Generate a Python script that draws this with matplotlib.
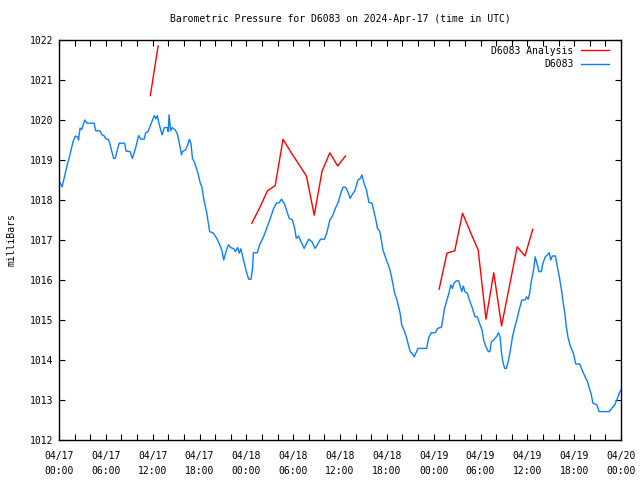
import matplotlib
matplotlib.use('Agg')
import matplotlib.pyplot as plt
import numpy as np

# hours since 2024-04-17 00:00 UTC, pressure in mbar
obs_hours = [0.1, 0.4, 0.7, 1.0, 1.4, 1.8, 2.1, 2.4, 2.5, 2.7, 2.9, 3.3, 3.6, 4.5, 4.7, 5.25, 5.5, 5.8, 6.0, 6.3,
             6.5, 7.0, 7.2, 7.7, 8.4, 8.6, 9.1, 9.4, 9.8, 10.2, 10.5, 10.9, 11.1, 11.4, 11.9, 12.2, 12.4, 12.6, 12.8, 13.2,
             13.5, 13.9, 14.0, 14.1, 14.3, 14.5, 14.9, 15.2, 15.5, 15.7, 15.8, 16.2, 16.5, 16.7, 16.9, 17.1, 17.4, 17.8, 18.1, 18.3,
             18.5, 18.7, 18.9, 19.1, 19.3, 19.8, 20.2, 20.6, 20.9, 21.1, 21.4, 21.7, 22.0, 22.4, 22.6, 22.9, 23.1, 23.3, 23.6, 24.0,
             24.3, 24.6, 24.8, 24.9, 25.4, 25.7, 26.2, 26.6, 27.0, 27.5, 27.9, 28.2, 28.5, 28.9, 29.2, 29.5, 29.9, 30.2, 30.4, 30.7,
             31.0, 31.4, 32.0, 32.4, 32.8, 33.1, 33.5, 34.0, 34.3, 34.7, 35.1, 35.4, 35.8, 36.1, 36.4, 36.7, 37.0, 37.3, 37.6, 37.9,
             38.3, 38.6, 38.8, 39.1, 39.4, 39.7, 40.1, 40.3, 40.6, 40.8, 41.1, 41.3, 41.5, 41.8, 42.1, 42.4, 42.6, 42.8, 43.0, 43.3,
             43.7, 43.9, 44.2, 44.5, 44.7, 45.0, 45.3, 45.5, 46.0, 46.5, 47.1, 47.4, 47.7, 48.2, 48.5, 49.0, 49.2, 49.4, 49.7, 49.9,
             50.2, 50.4, 50.6, 50.9, 51.2, 51.4, 51.6, 51.8, 52.0, 52.3, 52.65, 52.9, 53.3, 53.6, 53.8, 54.2, 54.4, 54.7, 55.0, 55.2,
             55.4, 55.7, 56.1, 56.3, 56.5, 56.7, 56.9, 57.1, 57.3, 57.5, 57.8, 58.1, 58.4, 58.7, 59.0, 59.3, 59.7, 59.9, 60.1, 60.3,
             60.5, 60.8, 61.0, 61.2, 61.5, 61.8, 62.0, 62.3, 62.6, 62.8, 63.0, 63.2, 63.6, 63.8, 64.1, 64.4, 64.6, 64.8, 65.0, 65.2,
             65.5, 65.9, 66.2, 66.7, 67.1, 67.4, 67.7, 67.9, 68.2, 68.4, 68.9, 69.2, 70.5, 70.8, 71.2, 71.5, 71.8, 72.0]
obs_mbar = [1018.44, 1018.33, 1018.58, 1018.83, 1019.13, 1019.46, 1019.6, 1019.57, 1019.5, 1019.8, 1019.76, 1020.0, 1019.92, 1019.92, 1019.73, 1019.73, 1019.63, 1019.6, 1019.53, 1019.52,
            1019.42, 1019.04, 1019.04, 1019.42, 1019.42, 1019.22, 1019.21, 1019.04, 1019.29, 1019.61, 1019.52, 1019.52, 1019.68, 1019.71, 1019.96, 1020.11, 1020.03, 1020.11, 1019.92, 1019.63,
            1019.81, 1019.81, 1019.71, 1020.13, 1019.73, 1019.81, 1019.75, 1019.63, 1019.33, 1019.13, 1019.21, 1019.25, 1019.38, 1019.52, 1019.42, 1019.04, 1018.92, 1018.67, 1018.42, 1018.33,
            1018.08, 1017.88, 1017.71, 1017.46, 1017.21, 1017.17, 1017.04, 1016.88, 1016.71, 1016.5, 1016.71, 1016.88, 1016.81, 1016.78, 1016.71, 1016.81, 1016.67, 1016.78, 1016.54, 1016.21,
            1016.02, 1016.02, 1016.3, 1016.68, 1016.68, 1016.88, 1017.08, 1017.29, 1017.5, 1017.79, 1017.93, 1017.93, 1018.02, 1017.9, 1017.71, 1017.54, 1017.5, 1017.29, 1017.04, 1017.1,
            1016.96, 1016.79, 1017.02, 1016.96, 1016.79, 1016.88, 1017.02, 1017.02, 1017.17, 1017.5, 1017.63, 1017.79, 1017.96, 1018.17, 1018.32, 1018.32, 1018.21, 1018.04, 1018.15, 1018.23,
            1018.5, 1018.54, 1018.63, 1018.4, 1018.25, 1017.94, 1017.92, 1017.75, 1017.5, 1017.29, 1017.21, 1017.0, 1016.75, 1016.58, 1016.42, 1016.25, 1016.08, 1015.88, 1015.67, 1015.5,
            1015.17, 1014.88, 1014.75, 1014.58, 1014.42, 1014.21, 1014.15, 1014.08, 1014.29, 1014.29, 1014.29, 1014.58, 1014.68, 1014.68, 1014.79, 1014.82, 1015.05, 1015.3, 1015.5, 1015.63,
            1015.88, 1015.79, 1015.92, 1015.98, 1015.98, 1015.85, 1015.71, 1015.85, 1015.71, 1015.67, 1015.46, 1015.33, 1015.08, 1015.08, 1014.96, 1014.75, 1014.5, 1014.33, 1014.21, 1014.21,
            1014.46, 1014.5, 1014.6, 1014.68, 1014.58, 1014.17, 1013.92, 1013.79, 1013.79, 1013.92, 1014.21, 1014.58, 1014.83, 1015.04, 1015.29, 1015.5, 1015.5, 1015.58, 1015.52, 1015.67,
            1015.96, 1016.25, 1016.58, 1016.44, 1016.21, 1016.21, 1016.42, 1016.58, 1016.63, 1016.68, 1016.5, 1016.6, 1016.6, 1016.38, 1016.08, 1015.71, 1015.42, 1015.17, 1014.83, 1014.58,
            1014.35, 1014.17, 1013.9, 1013.9, 1013.71, 1013.58, 1013.46, 1013.33, 1013.13, 1012.92, 1012.88, 1012.71, 1012.71, 1012.79, 1012.88, 1013.02, 1013.18, 1013.25]

# analysis runs (three separate pieces)
ana1_hours = [11.7, 12.7]
ana1_mbar = [1020.61, 1021.85]
ana2_hours = [24.7, 25.7, 26.7, 27.7, 28.7, 29.7, 30.7, 31.7, 32.7, 33.7, 34.7, 35.7, 36.7]
ana2_mbar = [1017.42, 1017.8, 1018.23, 1018.36, 1019.52, 1019.2, 1018.9, 1018.6, 1017.62, 1018.72, 1019.18, 1018.85, 1019.1]
ana3_hours = [48.7, 49.7, 50.7, 51.7, 52.7, 53.7, 54.7, 55.7, 56.7, 57.7, 58.7, 59.7, 60.7]
ana3_mbar = [1015.77, 1016.67, 1016.73, 1017.67, 1017.2, 1016.75, 1015.02, 1016.18, 1014.85, 1015.84, 1016.83, 1016.6, 1017.27]

tick_hours = list(range(0, 73, 2))
day_labels = ['04/17', '04/17', '04/17', '04/17', '04/18', '04/18', '04/18', '04/18',
              '04/19', '04/19', '04/19', '04/19', '04/20']
time_labels = ['00:00', '06:00', '12:00', '18:00'] * 3 + ['00:00']

plt.rcParams['font.family'] = ['DejaVu Sans Mono']
plt.rcParams['font.size'] = 7

fig = plt.figure(figsize=(6.4, 4.8), dpi=100)
ax = fig.add_axes([59/640, 40/480, 562/640, 400/480])

red = '#ff0000'
blue = '#0a80ff'
ax.plot(ana1_hours, ana1_mbar, color=red, lw=1, label='D6083 Analysis')
ax.plot(ana2_hours, ana2_mbar, color=red, lw=1)
ax.plot(ana3_hours, ana3_mbar, color=red, lw=1)
ax.plot(obs_hours, obs_mbar, color=blue, lw=1, label='D6083')

ax.set_xlim(0, 72)
ax.set_ylim(1012, 1022)
ax.set_yticks(range(1012, 1023))

labels = []
k = 0
for h in tick_hours:
    if h % 6 == 0:
        labels.append(day_labels[k] + '\n' + time_labels[k])
        k += 1
    else:
        labels.append('')
ax.set_xticks(tick_hours)
ax.set_xticklabels(labels, linespacing=1.6)

ax.tick_params(direction='in', length=4, width=0.8, top=True, right=True, pad=4)
ax.tick_params(axis='x', pad=8)
for s in ax.spines.values():
    s.set_linewidth(1)

ax.set_ylabel('milliBars', labelpad=10)
ax.set_title('Barometric Pressure for D6083 on 2024-Apr-17 (time in UTC)', fontsize=7, pad=13)

leg = ax.legend(loc='upper right', bbox_to_anchor=(1 - 2/562, 1 + 4/400), frameon=False,
                markerfirst=False, handlelength=2.9, borderaxespad=0.6,
                labelspacing=0.35, handletextpad=0.8)
for t in leg.get_texts():
    t.set_ha('right')

fig.savefig('out.png', dpi=100)
